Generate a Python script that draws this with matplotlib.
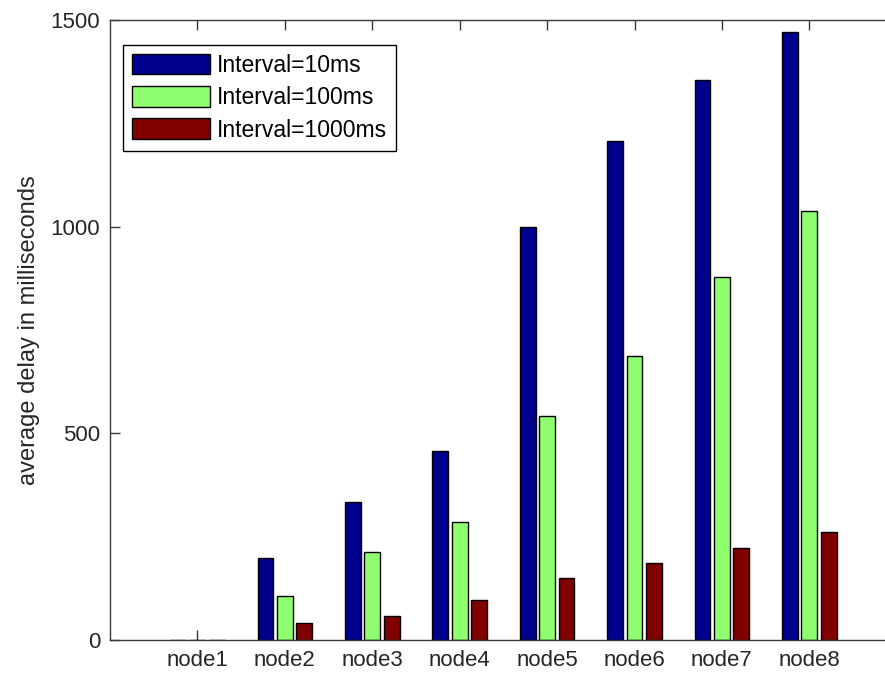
import matplotlib.pyplot as plt
import numpy as np

nodes = ["node1", "node2", "node3", "node4", "node5", "node6", "node7", "node8"]
delay_10ms = [0, 198, 335, 456, 1000, 1206, 1355, 1472]
delay_100ms = [0, 106, 212, 285, 541, 686, 877, 1039]
delay_1000ms = [0, 40, 58, 96, 149, 186, 222, 262]
series_labels = ["Interval=10ms", "Interval=100ms", "Interval=1000ms"]
colors = ["#00008F", "#8FFF70", "#800000"]

plt.rcParams["font.family"] = ["Liberation Sans", "DejaVu Sans"]

fig = plt.figure(figsize=(8.85, 6.77), dpi=100)
ax = fig.add_axes([0.1243, 0.0547, 0.889, 0.9158])

x = np.arange(1, len(nodes) + 1)
offset = 0.222
width = 0.18
for i, (vals, lab, c) in enumerate(zip([delay_10ms, delay_100ms, delay_1000ms], series_labels, colors)):
    # bars sit above the tick marks, so ticks only show where there is no bar
    ax.bar(x + (i - 1) * offset, vals, width, color=c, edgecolor="black",
           linewidth=1.0, label=lab, zorder=2.7)

ax.set_xlim(0, 9)
ax.set_ylim(0, 1500)
ax.set_xticks(x)
ax.set_xticklabels(nodes)
ax.set_yticks([0, 500, 1000, 1500])
ax.set_ylabel("average delay in milliseconds", fontsize=17, color="#262626", labelpad=8)

axis_col = "#3a3a3a"
for sp in ax.spines.values():
    sp.set_color(axis_col)
    sp.set_linewidth(1.0)
    sp.set_zorder(3)
ax.tick_params(direction="in", length=7, width=1, colors=axis_col,
               labelcolor="#262626", labelsize=16, top=True, right=True, pad=7)

leg = ax.legend(loc="upper left", bbox_to_anchor=(0.016, 0.96), borderaxespad=0,
                fontsize=16.5, fancybox=False, framealpha=1, edgecolor="black",
                handlelength=3.4, handleheight=1.0, labelspacing=0.4,
                handletextpad=0.3, borderpad=0.4)
leg.get_frame().set_linewidth(1.0)
leg.set_zorder(4)

fig.savefig("out.png", dpi=100)
